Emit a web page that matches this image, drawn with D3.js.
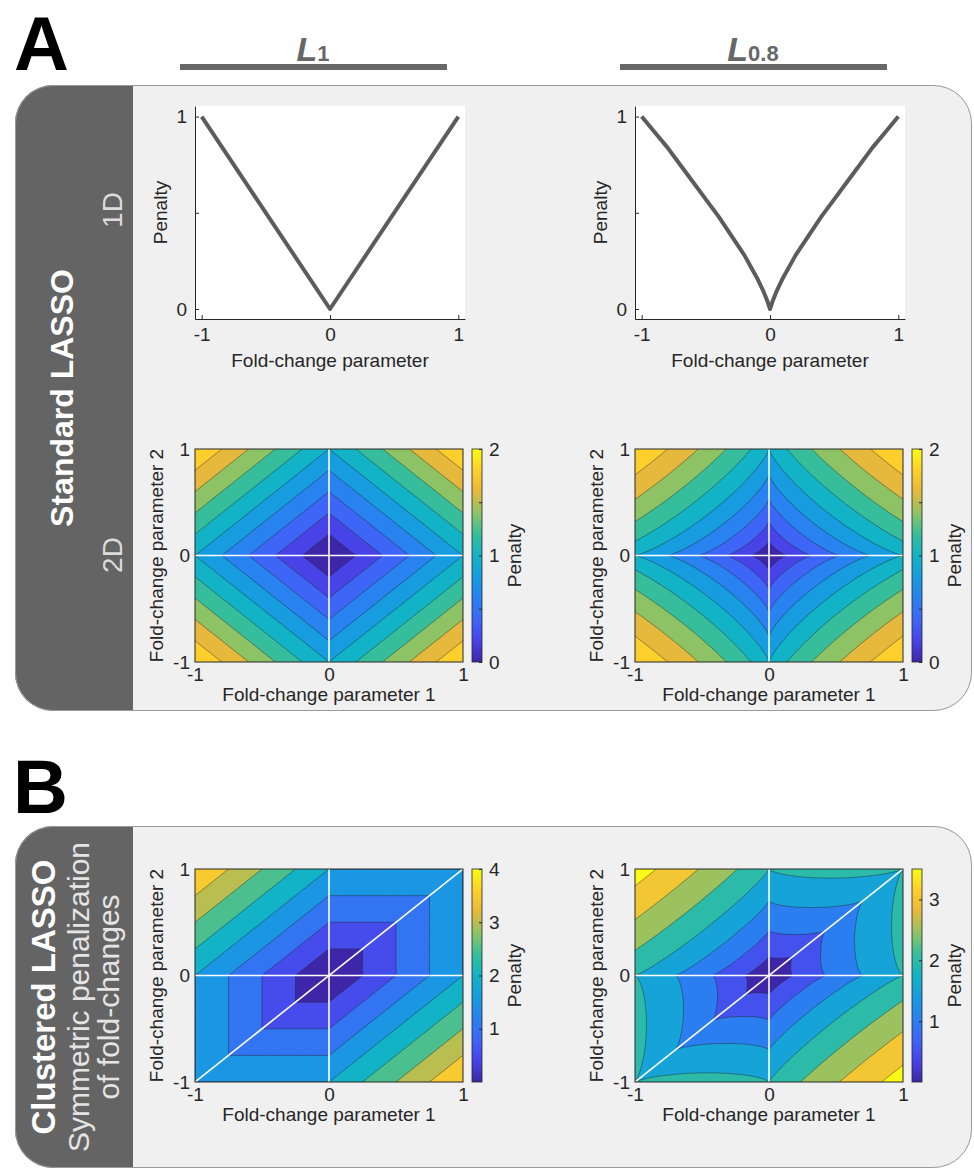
<!DOCTYPE html>
<html>
<head>
<meta charset="utf-8">
<style>
    body, html { margin: 0; padding: 0; background: #fff; }
    svg { display: block; }
</style>
</head>
<body>
<svg width="974" height="1170"></svg>
<script src="https://d3js.org/d3.v7.min.js"></script>
<script>
    // ---- data ----
    var normLabels = ["1", "0.8"];
    var normExponents = [1, 0.8];
    var axisTicks = [-1, 0, 1];
    var penaltyTicks1D = [0, 0.5, 1];

    // 1D penalty curves
    var curveL1X = [-1, 0, 1];
    var curveL1Y = [1, 0, 1];
    var curveL08X = [-1, -0.9, -0.8, -0.7, -0.6, -0.5, -0.4, -0.3, -0.2, -0.1, -0.05, -0.02, 0,
                     0.02, 0.05, 0.1, 0.2, 0.3, 0.4, 0.5, 0.6, 0.7, 0.8, 0.9, 1];
    var curveL08Y = [1, 0.92, 0.84, 0.75, 0.66, 0.57, 0.48, 0.38, 0.28, 0.16, 0.09, 0.04, 0,
                     0.04, 0.09, 0.16, 0.28, 0.38, 0.48, 0.57, 0.66, 0.75, 0.84, 0.92, 1];

    // contour levels and colorbar ticks
    var levelsStandard = [0, 0.2, 0.4, 0.6, 0.8, 1, 1.2, 1.4, 1.6, 1.8, 2];
    var levelsClusteredL1 = [0, 0.5, 1, 1.5, 2, 2.5, 3, 3.5, 4];
    var levelsClusteredL08 = [0, 0.5, 1, 1.5, 2, 2.5, 3, 3.5];
    var cbarMax = [2, 2, 4, 3.5];
    var cbarTicksStandard = [0, 0.5, 1, 1.5, 2];
    var cbarLabelsStandard = [0, 1, 2];
    var cbarTicksClusteredL1 = [1, 2, 3, 4];
    var cbarTicksClusteredL08 = [1, 2, 3];

    // parula colormap stops (t = 0, 0.1, ... 1)
    var parula = ["#3E26A8", "#4743E7", "#3E66F6", "#2882EF", "#179CDF", "#12B3C6",
                  "#36BE9C", "#8EC365", "#E6B93D", "#FDCF2C", "#F9FB14"];

    var FONT = '"Liberation Sans", Arial, Helvetica, sans-serif';
    var INK = "#262626";

    var svg = d3.select("svg");
    var defs = svg.append("defs");

    var parulaScale = d3.scaleLinear()
        .domain(parula.map(function(d, i) { return i / (parula.length - 1); }))
        .range(parula)
        .interpolate(d3.interpolateRgb)
        .clamp(true);

    var grad = defs.append("linearGradient").attr("id", "parula")
        .attr("x1", 0).attr("y1", 1).attr("x2", 0).attr("y2", 0);
    parula.forEach(function(c, i) {
        grad.append("stop").attr("offset", i / (parula.length - 1)).attr("stop-color", c);
    });

    // ---- panel frames ----
    function frame(top, bottom, id) {
        defs.append("clipPath").attr("id", id).append("rect")
            .attr("x", 15).attr("y", top).attr("width", 957).attr("height", bottom - top).attr("rx", 38);
        svg.append("rect")
            .attr("x", 15).attr("y", top).attr("width", 957).attr("height", bottom - top).attr("rx", 38)
            .attr("fill", "#f0f0f0");
        svg.append("rect")
            .attr("x", 15).attr("y", top).attr("width", 118).attr("height", bottom - top)
            .attr("fill", "#646464").attr("clip-path", "url(#" + id + ")");
        svg.append("rect")
            .attr("x", 15.5).attr("y", top + 0.5).attr("width", 956).attr("height", bottom - top - 1).attr("rx", 38)
            .attr("fill", "none").attr("stroke", "#9a9a9a");
    }
    frame(85, 711, "frameA");
    frame(826, 1168, "frameB");

    function vtext(x, y, str, size, weight, color) {
        svg.append("text")
            .attr("transform", "translate(" + x + "," + y + ") rotate(-90)")
            .attr("text-anchor", "middle").attr("dy", "0.35em")
            .attr("font-family", FONT).attr("font-size", size).attr("font-weight", weight)
            .attr("fill", color).text(str);
    }
    vtext(62, 398, "Standard LASSO", 32, "bold", "#fff");
    vtext(112, 210, "1D", 28, "normal", "#dcdcdc");
    vtext(112, 555, "2D", 28, "normal", "#dcdcdc");
    vtext(43, 997, "Clustered LASSO", 33, "bold", "#fff");
    vtext(78, 997, "Symmetric penalization", 30, "normal", "#e4e4e4");
    vtext(108, 997, "of fold-changes", 30, "normal", "#e4e4e4");

    // panel letters
    svg.append("text").attr("x", 14).attr("y", 70).attr("font-family", FONT)
        .attr("font-size", 76).attr("font-weight", "bold").attr("fill", "#000").text("A");
    svg.append("text").attr("x", 13).attr("y", 813).attr("font-family", FONT)
        .attr("font-size", 76).attr("font-weight", "bold").attr("fill", "#000").text("B");

    // column headers
    var colX = [0, 440];
    normLabels.forEach(function(lab, i) {
        var cx = 313 + colX[i];
        var t = svg.append("text").attr("x", cx).attr("y", 61).attr("text-anchor", "middle")
            .attr("font-family", FONT).attr("font-weight", "bold").attr("fill", "#676767");
        t.append("tspan").attr("font-size", 34).attr("font-style", "italic").text("L");
        t.append("tspan").attr("font-size", 22).text(lab);
        svg.append("rect").attr("x", cx - 133).attr("y", 64).attr("width", 267).attr("height", 6)
            .attr("fill", "#676767");
    });

    function styleAxis(sel) {
        sel.attr("font-size", 19).attr("font-family", FONT);
        sel.select(".domain").attr("stroke", INK);
        sel.selectAll(".tick line").attr("stroke", INK);
        sel.selectAll(".tick text").attr("fill", INK);
    }

    // ---- 1D penalty plots ----
    function linePlot(dx, xs, ys) {
        var left = 195 + dx, right = 465 + dx, top = 106, bottom = 319;
        var x = d3.scaleLinear().domain([-1.052, 1.052]).range([left, right]);
        var y = d3.scaleLinear().domain([-0.052, 1.055]).range([bottom, top]);
        var g = svg.append("g");
        g.append("rect").attr("x", left).attr("y", top).attr("width", right - left)
            .attr("height", bottom - top).attr("fill", "#fff");
        g.append("path").datum(d3.zip(xs, ys))
            .attr("d", d3.line().x(function(d) { return x(d[0]); }).y(function(d) { return y(d[1]); }))
            .attr("fill", "none").attr("stroke", "#5c5c5c").attr("stroke-width", 4)
            .attr("stroke-linejoin", "round");
        var ya = g.append("g").attr("transform", "translate(" + left + ",0)")
            .call(d3.axisLeft(y).tickValues(penaltyTicks1D)
                .tickFormat(function(d) { return d === 0.5 ? "" : String(d); })
                .tickSizeInner(-4).tickSizeOuter(0).tickPadding(8));
        var xa = g.append("g").attr("transform", "translate(0," + bottom + ")")
            .call(d3.axisBottom(x).tickValues(axisTicks).tickFormat(String)
                .tickSizeInner(-4).tickSizeOuter(0).tickPadding(9));
        styleAxis(ya); styleAxis(xa);
        g.append("text").attr("x", (left + right) / 2).attr("y", 367).attr("text-anchor", "middle")
            .attr("font-family", FONT).attr("font-size", 19).attr("fill", INK).text("Fold-change parameter");
        g.append("text").attr("transform", "translate(" + (left - 28) + "," + ((top + bottom) / 2) + ") rotate(-90)")
            .attr("text-anchor", "middle")
            .attr("font-family", FONT).attr("font-size", 19).attr("fill", INK).text("Penalty");
    }
    linePlot(colX[0], curveL1X, curveL1Y);
    linePlot(colX[1], curveL08X, curveL08Y);

    // ---- 2D contour plots ----
    function penalty(a, b, p, clustered) {
        var v = Math.pow(Math.abs(a), p) + Math.pow(Math.abs(b), p);
        if (clustered) v += Math.pow(Math.abs(a - b), p);
        return v;
    }

    var clipCount = 0;
    function contourPlot(dx, top, p, clustered, levels, cmax, cbTicks, cbLabels) {
        var left = 195 + dx, right = 463 + dx, bottom = top + 213;
        var x = d3.scaleLinear().domain([-1, 1]).range([left, right]);
        var y = d3.scaleLinear().domain([-1, 1]).range([bottom, top]);
        var n = 201, half = (n - 1) / 2, step = 1 / half;
        var values = new Array(n * n);
        for (var j = 0; j < n; j++) {
            for (var i = 0; i < n; i++) {
                values[j * n + i] = penalty((i - half) / half, (j - half) / half, p, clustered);
            }
        }
        var vmax = d3.max(values);
        var bands = d3.contours().size([n, n])
            .thresholds(levels.filter(function(l) { return l < vmax - 1e-9; }))(values);
        var proj = d3.geoTransform({
            point: function(px, py) {
                this.stream.point(x(-1 + (px - 0.5) * step), y(-1 + (py - 0.5) * step));
            }
        });
        var path = d3.geoPath(proj);
        var id = "clip" + (clipCount++);
        defs.append("clipPath").attr("id", id).append("rect")
            .attr("x", left).attr("y", top).attr("width", right - left).attr("height", bottom - top);
        var g = svg.append("g");
        var pg = g.append("g").attr("clip-path", "url(#" + id + ")");
        pg.selectAll("path").data(bands).join("path")
            .attr("d", path)
            .attr("fill", function(d) { return parulaScale(d.value / cmax); })
            .attr("stroke", function(d) { return d.value > 0 ? "#222" : "none"; })
            .attr("stroke-opacity", 0.75).attr("stroke-width", 0.6);
        // white guide lines
        var guides = [[[-1, 0], [1, 0]], [[0, -1], [0, 1]]];
        if (clustered) guides.push([[-1, -1], [1, 1]]);
        pg.selectAll("line.guide").data(guides).join("line").attr("class", "guide")
            .attr("x1", function(d) { return x(d[0][0]); }).attr("y1", function(d) { return y(d[0][1]); })
            .attr("x2", function(d) { return x(d[1][0]); }).attr("y2", function(d) { return y(d[1][1]); })
            .attr("stroke", "#fff").attr("stroke-width", 1.6);
        g.append("rect").attr("x", left).attr("y", top).attr("width", right - left)
            .attr("height", bottom - top).attr("fill", "none").attr("stroke", INK).attr("stroke-width", 1);

        var xa = g.append("g").attr("transform", "translate(0," + bottom + ")")
            .call(d3.axisBottom(x).tickValues(axisTicks).tickFormat(String).tickSize(0).tickPadding(6));
        var ya = g.append("g").attr("transform", "translate(" + left + ",0)")
            .call(d3.axisLeft(y).tickValues(axisTicks).tickFormat(String).tickSize(0).tickPadding(5));
        styleAxis(xa); styleAxis(ya);
        xa.select(".domain").remove(); ya.select(".domain").remove();
        g.append("text").attr("x", (left + right) / 2).attr("y", bottom + 39).attr("text-anchor", "middle")
            .attr("font-family", FONT).attr("font-size", 19).attr("fill", INK).text("Fold-change parameter 1");
        g.append("text").attr("transform", "translate(" + (left - 32) + "," + ((top + bottom) / 2) + ") rotate(-90)")
            .attr("text-anchor", "middle")
            .attr("font-family", FONT).attr("font-size", 19).attr("fill", INK).text("Fold-change parameter 2");

        // colorbar
        var cbLeft = right + 9, cbRight = cbLeft + 10;
        var cy = d3.scaleLinear().domain([0, cmax]).range([bottom, top]);
        g.append("rect").attr("x", cbLeft).attr("y", top).attr("width", 10).attr("height", bottom - top)
            .attr("fill", "url(#parula)").attr("stroke", INK).attr("stroke-width", 0.8);
        var ca = g.append("g").attr("transform", "translate(" + cbRight + ",0)")
            .call(d3.axisRight(cy).tickValues(cbTicks)
                .tickFormat(function(d) { return cbLabels.indexOf(d) >= 0 ? String(d) : ""; })
                .tickSizeInner(-3).tickSizeOuter(0).tickPadding(7));
        styleAxis(ca);
        ca.select(".domain").remove();
        g.append("text").attr("transform", "translate(" + (cbRight + 39) + "," + ((top + bottom) / 2) + ") rotate(-90)")
            .attr("text-anchor", "middle")
            .attr("font-family", FONT).attr("font-size", 19).attr("fill", INK).text("Penalty");
    }

    contourPlot(colX[0], 449, normExponents[0], false, levelsStandard, cbarMax[0],
        cbarTicksStandard, cbarLabelsStandard);
    contourPlot(colX[1], 449, normExponents[1], false, levelsStandard, cbarMax[1],
        cbarTicksStandard, cbarLabelsStandard);
    contourPlot(colX[0], 869, normExponents[0], true, levelsClusteredL1, cbarMax[2],
        cbarTicksClusteredL1, cbarTicksClusteredL1);
    contourPlot(colX[1], 869, normExponents[1], true, levelsClusteredL08, cbarMax[3],
        cbarTicksClusteredL08, cbarTicksClusteredL08);
</script>
</body>
</html>
